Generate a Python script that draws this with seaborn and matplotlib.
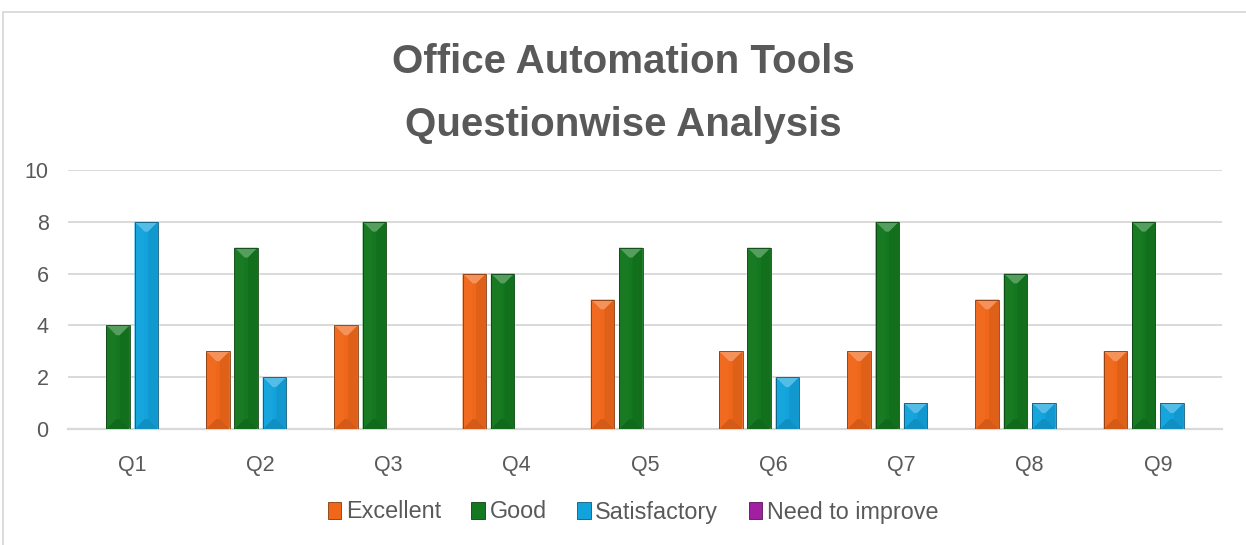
import matplotlib
matplotlib.use("Agg")
import matplotlib.pyplot as plt
import matplotlib.colors as mcolors
from matplotlib.patches import Polygon, Rectangle, Patch
import numpy as np
import pandas as pd
import seaborn as sns

QUESTIONS = ["Q1", "Q2", "Q3", "Q4", "Q5", "Q6", "Q7", "Q8", "Q9"]
EXCELLENT = [0, 3, 4, 6, 5, 3, 3, 5, 3]
GOOD = [4, 7, 8, 6, 7, 7, 8, 6, 8]
SATISFACTORY = [8, 2, 0, 0, 0, 2, 1, 1, 1]
NEED_TO_IMPROVE = [0, 0, 0, 0, 0, 0, 0, 0, 0]
SERIES = ["Excellent", "Good", "Satisfactory", "Need to improve"]
COLORS = ["#F0671A", "#13781F", "#12A3DD", "#A11FA1"]
Y_TICKS = [0, 2, 4, 6, 8, 10]
TITLE = "Office Automation Tools\nQuestionwise Analysis"

TEXT_GREY = "#595959"
LINE_GREY = "#D9D9D9"


def shade(color, f):
    """Lighten (f > 0) or darken (f < 0) a colour."""
    rgb = np.array(mcolors.to_rgb(color))
    if f >= 0:
        rgb = rgb + (1 - rgb) * f
    else:
        rgb = rgb * (1 + f)
    return tuple(np.clip(rgb, 0, 1))


def add_bevel(ax, bar):
    """Fake the Excel 'angle' bevel with four shaded faces on a bar."""
    x, y = bar.get_x(), bar.get_y()
    w, h = bar.get_width(), bar.get_height()
    if h <= 0:
        return
    base = bar.get_facecolor()
    (px0, py0), (px1, py1) = ax.transData.transform([(x, y), (x + w, y + h)])
    w_px, h_px = px1 - px0, py1 - py0
    d_px = min(0.42 * w_px, h_px / 2)
    bx = d_px * w / w_px
    by = d_px * h / h_px
    t, b = y + h, y
    faces = [
        ([(x, t), (x + w, t), (x + w - bx, t - by), (x + bx, t - by)], 0.28),
        ([(x, b), (x + w, b), (x + w - bx, b + by), (x + bx, b + by)], -0.12),
        ([(x, b), (x, t), (x + bx, t - by), (x + bx, b + by)], 0.02),
        ([(x + w, b), (x + w, t), (x + w - bx, t - by), (x + w - bx, b + by)], -0.07),
    ]
    for pts, f in faces:
        ax.add_patch(Polygon(pts, closed=True, facecolor=shade(base, f),
                             edgecolor="none", zorder=3))
    ax.add_patch(Rectangle((x, y), w, h, facecolor="none",
                           edgecolor=shade(base, -0.45), lw=0.6, zorder=4))


df = pd.DataFrame({
    "question": QUESTIONS * 4,
    "rating": [s for s in SERIES for _ in QUESTIONS],
    "count": EXCELLENT + GOOD + SATISFACTORY + NEED_TO_IMPROVE,
})

sns.set_theme(style="white")
plt.rcParams["font.family"] = ["Liberation Sans", "DejaVu Sans"]

fig = plt.figure(figsize=(12.46, 5.45), dpi=100)
ax = fig.add_axes([68 / 1246, 1 - 429 / 545, (1222 - 68) / 1246, (429 - 170) / 545])

sns.barplot(data=df, x="question", y="count", hue="rating", hue_order=SERIES,
            palette=COLORS, width=0.883, gap=0.17, saturation=1,
            legend=False, ax=ax, zorder=2)

ax.set_ylim(0, 10)
ax.set_xlim(-0.5, len(QUESTIONS) - 0.5)
ax.set_yticks(Y_TICKS)
ax.set_xlabel("")
ax.set_ylabel("")
ax.yaxis.grid(True, color=LINE_GREY, lw=1.4)
ax.set_axisbelow(True)
for side in ["left", "right", "top"]:
    ax.spines[side].set_visible(False)
ax.spines["bottom"].set_color(LINE_GREY)
ax.spines["bottom"].set_linewidth(1.6)
ax.tick_params(axis="both", length=0, labelsize=15.5, labelcolor=TEXT_GREY)
ax.tick_params(axis="y", pad=14)
ax.tick_params(axis="x", pad=19)

for bar in list(ax.patches):
    add_bevel(ax, bar)

handles = [Patch(facecolor=c, edgecolor=shade(c, -0.45), lw=0.6) for c in COLORS]
fig.legend(handles, SERIES, loc="center", bbox_to_anchor=(633 / 1246, 1 - 512 / 545),
           ncol=4, frameon=False, fontsize=16.8, labelcolor=TEXT_GREY,
           handlelength=0.58, handleheight=0.75, handletextpad=0.2, columnspacing=1.3)

fig.text(0.5, 1 - 93.5 / 545, TITLE, ha="center", va="center", fontsize=29,
         fontweight="bold", color=TEXT_GREY, linespacing=1.82)

fig.add_artist(Rectangle((3 / 1246, -0.1), 1.2, 1.1 - 12 / 545, transform=fig.transFigure,
                         facecolor="none", edgecolor=LINE_GREY, lw=1.3))

fig.savefig("out.png", dpi=100)
